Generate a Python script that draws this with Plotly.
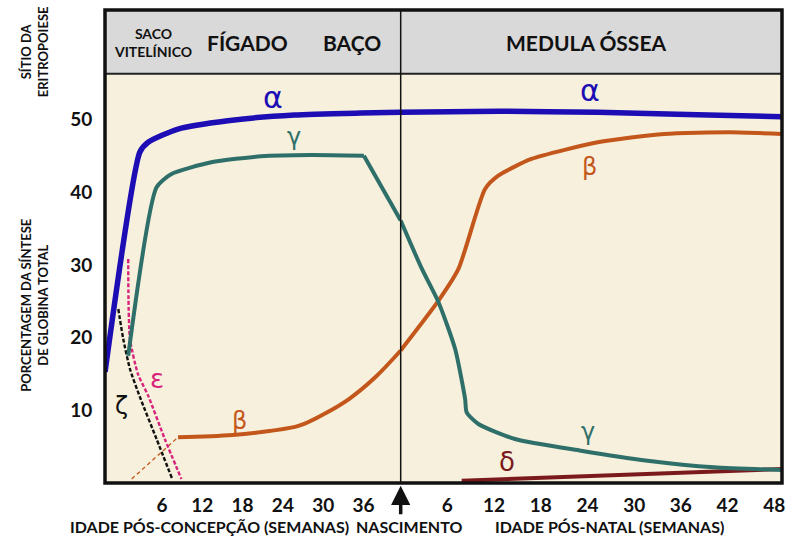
import plotly.graph_objects as go

# ---- data: % of total globin synthesis ----
# prenatal panel: weeks post-conception
alpha_pre_w = [-2.49, 2.70, 3.93, 8.38, 15.79, 25.69, 35.58, 41.55]
alpha_pre_v = [15.27, 45.53, 46.86, 48.69, 49.84, 50.62, 50.89, 50.99]
gamma_pre_w = [0.96, 5.18, 7.40, 13.33, 20.75, 28.16, 36.07, 41.55]
gamma_pre_v = [17.51, 40.67, 42.50, 44.11, 44.94, 45.12, 45.02, 36.10]
beta_pre_w = [8.38, 16.54, 21.98, 26.43, 30.13, 33.84, 37.80, 41.55]
beta_pre_v = [6.29, 6.60, 7.15, 7.88, 9.49, 11.55, 14.58, 18.23]
beta_early_w = [1.47, 8.38]
beta_early_v = [0.55, 6.29]
epsilon_w = [0.96, 1.00, 1.22, 2.40, 3.93, 6.41, 8.88]
epsilon_v = [30.81, 25.30, 19.81, 15.00, 12.01, 6.05, 0.55]
zeta_w = [-0.52, 0.22, 1.22, 2.70, 5.18, 7.52]
zeta_v = [23.93, 19.81, 15.68, 11.83, 6.05, 0.55]

# postnatal panel: weeks after birth
alpha_post_w = [0.0, 12.54, 25.33, 38.13, 49.0]
alpha_post_v = [51.0, 51.13, 50.99, 50.66, 50.38]
gamma_post_w = [0.0, 2.73, 4.86, 7.00, 8.28, 8.48, 9.98, 14.68, 23.16, 31.73, 40.26, 49.0]
gamma_post_v = [36.10, 29.44, 24.86, 18.43, 11.55, 9.72, 8.12, 6.05, 4.44, 3.07, 2.16, 1.79]
beta_post_w = [0.0, 4.86, 7.42, 10.84, 12.54, 16.80, 25.33, 33.87, 42.39, 49.0]
beta_post_v = [18.23, 25.08, 29.44, 40.44, 42.27, 44.57, 46.86, 48.01, 48.24, 48.01]
delta_post_w = [7.84, 49.0]
delta_post_v = [0.32, 1.93]

pre_ticks = [6, 12, 18, 24, 30, 36]
post_ticks = [6, 12, 18, 24, 30, 36, 42, 48]
y_ticks = [10, 20, 30, 40, 50]

sites_band = ["SACO<br>VITELÍNICO", "FÍGADO", "BAÇO", "MEDULA ÓSSEA"]

BLUE = "#1c0db4"
TEAL = "#2f6f6a"
ORANGE = "#c3571b"
MAGENTA = "#d8227c"
DRED = "#7a1a1c"
BG = "#f7f0dc"
BAND = "#d9d9d9"
FONT = "Lato"
GREEK = "DejaVu Sans"

split = (402 - 105) / 680.0
Y_TOP = 65.06
BAND_LOW = 56.3

fig = go.Figure()


def add(xs, ys, color, width, axis, dash=None, shape="spline", smooth=0.6):
    fig.add_trace(go.Scatter(
        x=xs, y=ys, mode="lines", xaxis=axis, yaxis="y",
        line=dict(color=color, width=width, dash=dash, shape=shape, smoothing=smooth),
        hoverinfo="skip", showlegend=False))


add(beta_early_w, beta_early_v, ORANGE, 1.3, "x", dash="4px,3px", shape="linear")
add(zeta_w, zeta_v, "#111111", 2.4, "x", dash="4px,2px")
add(epsilon_w, epsilon_v, MAGENTA, 2.4, "x", dash="4px,2px")
add(beta_pre_w, beta_pre_v, ORANGE, 4, "x", smooth=1.0)
# gamma: smooth plateau, then a straight decline towards birth
add(gamma_pre_w[:7], gamma_pre_v[:7], TEAL, 4, "x")
add(gamma_pre_w[6:], gamma_pre_v[6:], TEAL, 4, "x", shape="linear")
add(alpha_pre_w, alpha_pre_v, BLUE, 5.5, "x")
add(delta_post_w, delta_post_v, DRED, 4, "x2", shape="linear")
add(beta_post_w, beta_post_v, ORANGE, 4, "x2")
add(gamma_post_w, gamma_post_v, TEAL, 4, "x2")
add(alpha_post_w, alpha_post_v, BLUE, 5.5, "x2")

tickfont = dict(family=FONT, size=19, color="#111111", weight="bold")

fig.update_layout(
    width=795, height=542,
    margin=dict(l=105, r=10, t=10, b=59),
    paper_bgcolor="white", plot_bgcolor=BG,
    xaxis=dict(domain=[0, split], range=[-2.5, 41.55], anchor="y",
               tickvals=pre_ticks, ticks="outside", ticklen=5,
               tickcolor="rgba(0,0,0,0)", showgrid=False, zeroline=False,
               tickfont=tickfont, showline=False),
    xaxis2=dict(domain=[split, 1], range=[0, 49], anchor="y",
                tickvals=post_ticks, ticks="outside", ticklen=5,
                tickcolor="rgba(0,0,0,0)", showgrid=False, zeroline=False,
                tickfont=tickfont, showline=False),
    yaxis=dict(range=[0, Y_TOP], tickvals=y_ticks, ticks="outside", ticklen=8,
               tickcolor="rgba(0,0,0,0)", showgrid=False, zeroline=False,
               tickfont=tickfont, showline=False),
)

# erythropoiesis site band
fig.add_shape(type="rect", xref="paper", yref="y", x0=0, x1=1, y0=BAND_LOW, y1=Y_TOP,
              fillcolor=BAND, line=dict(width=0), layer="below")
fig.add_shape(type="line", xref="paper", yref="y", x0=0, x1=1, y0=BAND_LOW, y1=BAND_LOW,
              line=dict(color="#222222", width=2))
# birth
fig.add_shape(type="line", xref="paper", yref="paper", x0=split, x1=split, y0=0, y1=1,
              line=dict(color="#111111", width=1.5))
# frame
fig.add_shape(type="rect", xref="paper", yref="paper", x0=0, x1=1, y0=0, y1=1,
              line=dict(color="#111111", width=3.5))

band_pos = [0.0706, 0.210, 0.365, 0.710]
band_size = [14, 21, 21, 21]
for txt, xp, sz in zip(sites_band, band_pos, band_size):
    fig.add_annotation(text=txt, x=xp, y=0.931, xref="paper", yref="paper",
                       xanchor="center", yanchor="middle", showarrow=False,
                       font=dict(family=FONT, size=sz, color="#111111", weight="bold"))

# curve labels
labels = [
    ("α", "x", 22.5, 53.05, BLUE, 30),
    ("α", "x2", 24.27, 53.96, BLUE, 30),
    ("γ", "x", 25.69, 47.55, TEAL, 24),
    ("γ", "x2", 24.05, 6.97, TEAL, 24),
    ("β", "x2", 24.27, 43.43, ORANGE, 24),
    ("β", "x", 17.53, 8.57, ORANGE, 24),
    ("ε", "x", 5.18, 14.3, MAGENTA, 26),
    ("ζ", "x", -0.01, 10.63, "#111111", 24),
    ("δ", "x2", 13.6, 2.85, DRED, 26),
]
for t, ax, xv, yv, c, s in labels:
    fig.add_annotation(text=t, x=xv, y=yv, xref=ax, yref="y", showarrow=False,
                       xanchor="center", yanchor="middle",
                       font=dict(family=GREEK, size=s, color=c))

# axis captions
cap = dict(family=FONT, size=16, color="#111111", weight="bold")
captions = [("IDADE PÓS-CONCEPÇÃO (SEMANAS)", 0.1537),
            ("NASCIMENTO", 0.4485),
            ("IDADE PÓS-NATAL (SEMANAS)", 0.745)]
for txt, xp in captions:
    fig.add_annotation(text=txt, x=xp, y=-0.093, xref="paper", yref="paper",
                       xanchor="center", yanchor="middle", showarrow=False, font=cap)
fig.add_annotation(text="", x=split, y=-0.006, xref="paper", yref="paper",
                   showarrow=True, ax=0, ay=30, arrowhead=2, arrowsize=1.1,
                   arrowwidth=3.5, arrowcolor="#111111")

side = dict(family=FONT, size=13, color="#111111", weight="bold")
fig.add_annotation(text="SÍTIO DA<br>ERITROPOIESE", x=-0.104, y=0.912,
                   xref="paper", yref="paper", xanchor="center", yanchor="middle",
                   showarrow=False, textangle=-90, font=side)
fig.add_annotation(text="PORCENTAGEM DA SÍNTESE<br>DE GLOBINA TOTAL", x=-0.104, y=0.376,
                   xref="paper", yref="paper", xanchor="center", yanchor="middle",
                   showarrow=False, textangle=-90, font=side)

fig.write_html("out.html")
